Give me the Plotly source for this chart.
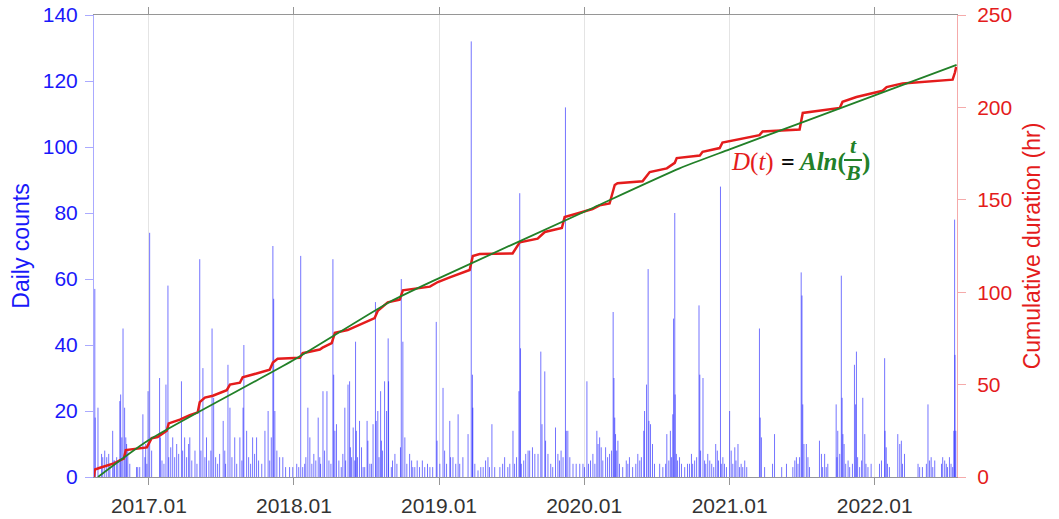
import pandas as pd
import plotly.graph_objects as go

# ---------------------------------------------------------------- data
start_date = pd.Timestamp("2016-08-18")

# daily counts: day offset from start_date -> count
event_day = [
    0, 1, 8, 17, 20, 25, 30, 35, 38, 45, 48, 50, 55, 58, 63, 65, 68, 71, 75, 78,
    80, 83, 88, 105, 108, 113, 121, 126, 128, 131, 134, 138, 143,
    163, 165, 169, 174, 179, 184, 186, 191, 196, 201, 206, 211, 218, 221, 226, 231, 236,
    239, 244, 252, 257, 264, 267, 272, 277, 281, 287, 292, 295, 299, 304, 309, 314, 323, 327, 329, 335,
    340, 345, 352, 357, 365, 370, 373, 375, 382, 387, 392, 397, 402, 407, 412, 420, 428, 436, 440, 444,
    448, 450, 453, 458, 465, 473, 480, 490, 498, 508, 513, 518, 523, 528, 531, 536, 541, 546, 551, 556,
    562, 566, 568, 574, 578, 584, 589, 594, 599, 601, 604, 608, 614, 620, 624, 629, 631, 637, 641, 643,
    646, 650, 654, 656, 658, 661, 666, 671, 675, 679, 685, 687, 692, 696, 700, 706, 708, 712, 715, 719,
    721, 724, 729, 734, 738, 739, 746, 749, 755, 760, 769, 771, 775, 780, 785, 792, 797, 800, 805, 811,
    817, 824, 830, 837, 843, 850, 859, 861, 868, 876, 880, 885, 893, 895, 901, 908, 914, 918, 926, 939,
    947, 950, 951, 956, 964, 971, 977, 983, 989, 993, 999, 1006, 1019, 1026, 1031, 1039, 1044, 1052, 1056, 1061,
    1067, 1069, 1071, 1073, 1079, 1084, 1090, 1094, 1101, 1107, 1115, 1122, 1125, 1132, 1134, 1140, 1147, 1152, 1159, 1165,
    1169, 1173, 1178, 1184, 1186, 1190, 1195, 1203, 1211, 1220, 1228, 1232, 1238, 1242, 1247, 1253, 1258, 1263, 1266, 1270,
    1274, 1278, 1285, 1290, 1295, 1300, 1304, 1306, 1308, 1310, 1313, 1316, 1320, 1328, 1337, 1341, 1345, 1353, 1361, 1366,
    1371, 1375, 1381, 1383, 1388, 1392, 1394, 1398, 1403, 1408, 1421, 1429, 1436, 1439, 1444, 1448, 1451, 1454, 1456, 1459,
    1460, 1463, 1466, 1471, 1476, 1484, 1491, 1496, 1501, 1504, 1509, 1514, 1520, 1522, 1524, 1530, 1534, 1537, 1542, 1547,
    1552, 1557, 1562, 1566, 1569, 1574, 1576, 1580, 1584, 1589, 1597, 1601, 1605, 1610, 1613, 1618, 1622, 1626, 1630, 1635,
    1640, 1672, 1674, 1677, 1685, 1705, 1710, 1728, 1740, 1756, 1761, 1765, 1769, 1773, 1777, 1779, 1781, 1784, 1790, 1794,
    1798, 1823, 1828, 1831, 1836, 1840, 1844, 1865, 1867, 1869, 1874, 1878, 1880, 1882, 1885, 1889, 1895, 1899, 1906, 1911,
    1914, 1916, 1919, 1924, 1929, 1932, 1937, 1940, 1945, 1953, 1974, 1979, 1987, 1988, 1991, 1994, 1999, 2020, 2025, 2029,
    2032, 2037, 2071, 2075, 2082, 2092, 2096, 2100, 2104, 2108, 2113, 2130, 2133, 2138, 2142, 2145, 2150, 2154, 2158, 2161,
    2163, 2164, 2166,
]
event_count = [
    57, 18, 21, 7, 6, 8, 6, 7, 4, 14, 5, 5, 6, 5, 23, 25, 12, 45, 21, 12,
    10, 8, 4, 3, 3, 3, 19, 6, 10, 4, 26, 74, 8,
    30, 12, 5, 4, 28, 58, 6, 9, 12, 6, 10, 7, 29, 8, 12, 6, 10,
    12, 5, 8, 4, 66, 8, 33, 6, 12, 5, 8, 45, 24, 6, 4, 7, 17, 8, 4, 34,
    21, 6, 12, 4, 12, 5, 21, 40, 14, 6, 4, 12, 7, 12, 5, 4, 14, 20, 5, 12,
    70, 54, 20, 8, 6, 6, 3, 3, 3, 4, 3, 67, 3, 4, 6, 21, 12, 4, 7, 5,
    18, 6, 4, 26, 8, 26, 5, 4, 66, 31, 14, 16, 5, 3, 7, 21, 5, 28, 29, 9,
    6, 15, 5, 41, 14, 6, 17, 9, 3, 3, 17, 11, 4, 4, 16, 53, 17, 20, 6, 26,
    11, 8, 29, 20, 42, 29, 3, 5, 7, 4, 9, 60, 41, 12, 4, 7, 5, 3, 3, 5,
    3, 5, 3, 4, 3, 3, 47, 11, 4, 27, 8, 4, 17, 6, 6, 4, 19, 4, 6, 13,
    132, 31, 21, 4, 2, 3, 3, 5, 6, 3, 16, 3, 3, 4, 6, 3, 4, 14, 4, 6,
    26, 86, 39, 4, 5, 7, 8, 8, 9, 7, 7, 38, 16, 32, 11, 7, 4, 3, 15, 7,
    5, 8, 6, 112, 14, 14, 6, 4, 4, 4, 4, 3, 29, 4, 5, 7, 4, 14, 10, 12,
    9, 5, 9, 6, 7, 8, 50, 30, 18, 13, 8, 11, 4, 3, 5, 4, 6, 3, 4, 7,
    5, 6, 14, 20, 28, 63, 17, 16, 10, 4, 4, 3, 4, 13, 5, 14, 6, 19, 48, 80,
    25, 7, 5, 6, 4, 3, 4, 4, 7, 4, 5, 6, 52, 31, 8, 30, 5, 4, 7, 5,
    4, 3, 10, 8, 5, 88, 4, 6, 4, 3, 20, 8, 4, 9, 5, 10, 3, 4, 3, 5,
    3, 45, 18, 12, 3, 4, 13, 3, 4, 3, 5, 6, 4, 6, 62, 55, 22, 10, 10, 6,
    3, 11, 7, 3, 7, 3, 4, 22, 6, 14, 7, 61, 24, 13, 10, 4, 5, 3, 4, 34,
    22, 38, 6, 3, 5, 24, 13, 4, 3, 4, 4, 5, 36, 14, 9, 4, 3, 13, 10, 11,
    4, 7, 4, 3, 3, 4, 22, 5, 6, 3, 5, 4, 6, 5, 4, 3, 6, 4, 3, 14,
    78, 37, 14,
]

# cumulative duration (hr), observed
duration_day = [
    -2, 0, 13, 38, 50, 63, 73, 78, 131, 143, 158, 181, 186, 214, 239, 259, 264, 277, 297, 332,
    340, 365, 372, 407, 440, 448, 460, 516, 523, 566, 573, 596, 604, 636, 659, 684, 704, 712, 724, 737,
    767, 775, 843, 863, 893, 923, 943, 951, 968, 1051, 1069, 1114, 1132, 1175, 1182, 1220, 1252, 1270, 1295, 1308,
    1315, 1378, 1396, 1439, 1459, 1464, 1522, 1529, 1572, 1579, 1672, 1680, 1773, 1781, 1874, 1881, 1916, 1982, 1992, 2032,
    2158, 2164, 2167,
]
duration_hr = [
    0, 4, 5, 6.5, 7.5, 9, 10, 14.6, 16, 21, 21.6, 25, 29, 31, 33.5, 35, 40.5, 43, 44, 47,
    50, 51, 54, 56, 58, 62, 64, 64.5, 67, 69, 70, 72.5, 78, 79.5, 81.7, 84, 86, 90, 92, 94.5,
    96, 101, 103, 105.5, 108, 110.5, 112, 119.6, 120.7, 121, 127, 129, 132.6, 134.7, 140.7, 143, 145, 147, 148, 158,
    159, 160, 165, 167, 170, 172.6, 174, 176, 178, 181, 185, 187, 188, 197, 199.7, 203, 205.6, 209, 211, 213,
    215, 219, 222,
]

# fitted curve D(t) = A ln(t/B)
fit_day = [8, 136, 498, 742, 865, 1230, 1471, 1597, 1962, 2168]
fit_hr = [0, 20, 63, 94.7, 107.5, 143.4, 167, 177.3, 206.5, 223]

tick_dates = ["2017-01-01", "2018-01-01", "2019-01-01", "2020-01-01", "2021-01-01", "2022-01-01"]
tick_labels = ["2017.01", "2018.01", "2019.01", "2020.01", "2021.01", "2022.01"]


def to_dates(days):
    return start_date + pd.to_timedelta(days, unit="D")


BLUE = "rgb(25,25,250)"
RED = "rgb(228,28,28)"
GREEN = "rgb(34,128,40)"

# each day is drawn as a thin vertical stem from 0 to its count
event_dates = to_dates(event_day)
stem_x, stem_y = [], []
for d, c in zip(event_dates, event_count):
    stem_x += [d, d, None]
    stem_y += [0, c, None]

fig = go.Figure()

fig.add_trace(go.Scatter(
    x=stem_x, y=stem_y, mode="lines",
    line=dict(color="rgba(0,0,255,0.55)", width=1),
    yaxis="y", showlegend=False, hoverinfo="skip",
))
fig.add_trace(go.Scatter(
    x=to_dates(duration_day), y=duration_hr, mode="lines",
    line=dict(color=RED, width=2.5), yaxis="y2", showlegend=False,
))
fig.add_trace(go.Scatter(
    x=to_dates(fit_day), y=fit_hr, mode="lines",
    line=dict(color=GREEN, width=1.8, shape="spline", smoothing=0.6),
    yaxis="y2", showlegend=False,
))

font_family = "Liberation Sans, Arial, sans-serif"

fig.update_layout(
    width=1059, height=519,
    margin=dict(l=94, r=102, t=15, b=42, autoexpand=False),
    paper_bgcolor="white", plot_bgcolor="white",
    xaxis=dict(
        type="date", automargin=False,
        range=["2016-08-16", "2022-07-27"],
        tickvals=tick_dates, ticktext=tick_labels,
        tickfont=dict(family=font_family, size=21, color="#333333"),
        ticklabelstandoff=3,
        showgrid=True, gridcolor="rgb(228,228,228)", gridwidth=1,
        showline=True, linecolor="rgb(150,150,150)", linewidth=1,
        mirror="ticks", ticks="outside", ticklen=7, tickcolor="rgb(150,150,150)",
        zeroline=False,
    ),
    yaxis=dict(
        range=[0, 140], dtick=20, automargin=False,
        tickfont=dict(family=font_family, size=21, color=BLUE),
        ticklabelstandoff=3,
        title=dict(text="Daily counts", font=dict(family=font_family, size=23, color=BLUE), standoff=6),
        showgrid=False, zeroline=False,
        showline=True, linecolor="rgb(170,170,255)", linewidth=1,
        ticks="outside", ticklen=8, tickcolor="rgb(170,170,255)",
    ),
    yaxis2=dict(
        range=[0, 250], dtick=50, overlaying="y", side="right", automargin=False,
        tickfont=dict(family=font_family, size=21, color=RED),
        ticklabelstandoff=7,
        title=dict(text="Cumulative duration (hr)", font=dict(family=font_family, size=23, color=RED), standoff=12),
        showgrid=False, zeroline=False,
        showline=True, linecolor="rgb(245,170,170)", linewidth=1,
        ticks="outside", ticklen=8, tickcolor="rgb(245,170,170)",
    ),
)

# formula label D(t) = A ln(t/B)
serif = "Liberation Serif, DejaVu Serif, serif"


def px_x(px):
    return (px - 94) / 863


def px_y(py):
    return (477 - py) / 462


formula_parts = [
    ("<i>D</i>(<i>t</i>)", 752, 162, RED, 25, False),
    ("=", 788, 162, "black", 24, True),
    ("<b><i>Aln</i>(</b>", 822, 162, GREEN, 25, False),
    ("<b><i>t</i></b>", 853, 145, GREEN, 22, False),
    ("<b><i>B</i></b>", 853, 173, GREEN, 22, False),
    ("<b>)</b>", 866, 162, GREEN, 25, False),
]
for text, x, y, color, size, bold in formula_parts:
    fig.add_annotation(
        x=px_x(x), y=px_y(y), xref="paper", yref="paper",
        text=f"<b>{text}</b>" if bold else text,
        showarrow=False, xanchor="center", yanchor="middle",
        font=dict(family=serif, size=size, color=color),
    )
fig.add_shape(
    type="line", xref="paper", yref="paper",
    x0=px_x(844), x1=px_x(862), y0=px_y(160), y1=px_y(160),
    line=dict(color=GREEN, width=2),
)

fig.write_html("out.html")
